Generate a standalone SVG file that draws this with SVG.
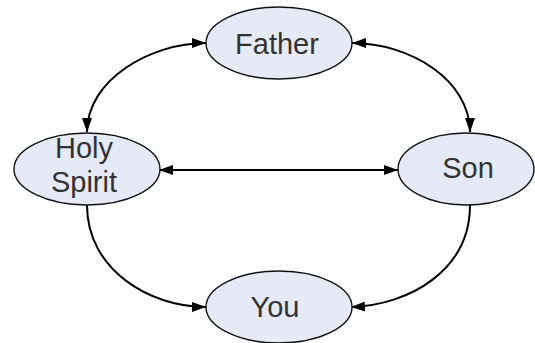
<svg xmlns="http://www.w3.org/2000/svg" width="535" height="343" viewBox="0 0 535 343">
<style>
.node ellipse{fill:#e6eaf6;stroke:#111;stroke-width:1.4}
.node text{font-family:"Liberation Sans",Arial,sans-serif;font-size:29px;fill:#333;text-anchor:middle}
.edge{fill:none;stroke:#000;stroke-width:2}
</style>
<defs>
<marker id="ah" viewBox="0 0 14 10" refX="14" refY="5" markerWidth="14" markerHeight="10" markerUnits="userSpaceOnUse" orient="auto-start-reverse">
<path d="M0,0 L14,5 L0,10 Z" fill="#000"/>
</marker>
</defs>
<rect width="535" height="343" fill="#fff"/>
<g id="connectors">
<path class="edge" d="M206,43 C150,43 87,80 87,132" marker-start="url(#ah)" marker-end="url(#ah)"/>
<path class="edge" d="M352,43 C410,43 470,80 470,132" marker-start="url(#ah)" marker-end="url(#ah)"/>
<path class="edge" d="M159,170 L398,170" marker-start="url(#ah)" marker-end="url(#ah)"/>
<path class="edge" d="M87,205 C87,270 150,307 206,307" marker-end="url(#ah)"/>
<path class="edge" d="M470,205 C470,270 410,305 351,307" marker-end="url(#ah)"/>
</g>
<g id="father" class="node">
<ellipse cx="279" cy="43" rx="73" ry="36"/>
<text x="277" y="54">Father</text>
</g>
<g id="holy-spirit" class="node">
<ellipse cx="87" cy="169" rx="73" ry="36"/>
<text x="84" y="158">Holy</text>
<text x="84" y="192">Spirit</text>
</g>
<g id="son" class="node">
<ellipse cx="466" cy="169" rx="68" ry="36"/>
<text x="468" y="178">Son</text>
</g>
<g id="you" class="node">
<ellipse cx="279" cy="307" rx="73" ry="36"/>
<text x="275" y="317">You</text>
</g>
</svg>
